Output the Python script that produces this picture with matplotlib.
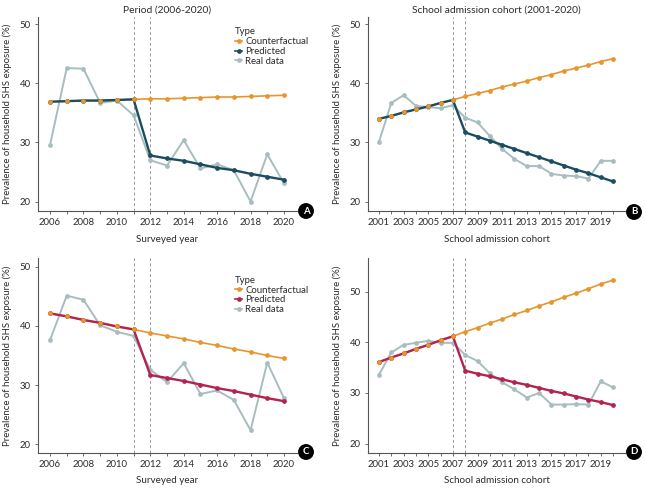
import matplotlib
matplotlib.use("Agg")
import matplotlib.pyplot as plt

plt.rcParams['font.family'] = ['Lato', 'DejaVu Sans']

# data
years_period = list(range(2006, 2021))
years_cohort = list(range(2001, 2021))

a_counterfactual = [36.9, 37.0, 37.1, 37.1, 37.2, 37.3, 37.4, 37.4, 37.5, 37.6, 37.7, 37.7, 37.8, 37.9, 38.0]
a_predicted = [36.9, 37.0, 37.1, 37.1, 37.2, 37.3, 27.8, 27.3, 26.9, 26.3, 25.7, 25.3, 24.7, 24.2, 23.7]
a_real = [29.6, 42.6, 42.5, 36.7, 37.1, 34.6, 27.0, 26.1, 30.4, 25.6, 26.3, 25.3, 20.0, 28.0, 23.1]

b_counterfactual = [34.0, 34.5, 35.1, 35.6, 36.1, 36.7, 37.2, 37.8, 38.3, 38.8, 39.4, 39.9, 40.4, 41.0,
                    41.5, 42.1, 42.6, 43.1, 43.7, 44.2]
b_predicted = [34.0, 34.5, 35.1, 35.6, 36.1, 36.7, 37.2, 31.7, 31.0, 30.3, 29.6, 28.9, 28.2, 27.5,
               26.8, 26.1, 25.4, 24.8, 24.1, 23.4]
b_real = [30.1, 36.7, 38.0, 36.2, 36.0, 35.8, 36.3, 34.2, 33.4, 31.1, 28.9, 27.2, 26.0, 26.0,
          24.7, 24.4, 24.3, 23.9, 26.9, 26.9]

c_counterfactual = [42.1, 41.6, 41.0, 40.5, 39.9, 39.4, 38.8, 38.3, 37.8, 37.2, 36.7, 36.1, 35.6, 35.0, 34.5]
c_predicted = [42.1, 41.6, 41.0, 40.5, 39.9, 39.4, 31.7, 31.2, 30.7, 30.1, 29.5, 29.0, 28.4, 27.8, 27.3]
c_real = [37.6, 45.1, 44.4, 40.1, 39.0, 38.3, 32.6, 30.5, 33.7, 28.5, 29.1, 27.5, 22.4, 33.8, 27.8]

d_counterfactual = [36.1, 37.0, 37.8, 38.7, 39.5, 40.4, 41.2, 42.1, 42.9, 43.8, 44.6, 45.5, 46.3, 47.2,
                    48.0, 48.9, 49.7, 50.6, 51.5, 52.3]
d_predicted = [36.1, 37.0, 37.8, 38.7, 39.5, 40.4, 41.2, 34.4, 33.8, 33.3, 32.7, 32.1, 31.6, 31.0,
               30.4, 29.9, 29.3, 28.7, 28.2, 27.6]
d_real = [33.6, 38.0, 39.5, 39.9, 40.3, 39.9, 39.9, 37.5, 36.3, 33.9, 32.1, 30.7, 29.1, 30.0,
          27.7, 27.7, 27.8, 27.7, 32.3, 31.1]

period_ticks = list(range(2006, 2021, 2))
cohort_ticks = list(range(2001, 2020, 2))

orange = '#E8952E'
teal = '#1B4D60'
crimson = '#B3234E'
grey = '#A8BDBF'
text_col = '#2b2b2b'

W, H = 646, 491
fig = plt.figure(figsize=(W / 100, H / 100), dpi=100)


def make_axes(x0, x1, y0, y1):
    return fig.add_axes([x0 / W, 1 - y1 / H, (x1 - x0) / W, (y1 - y0) / H])


def draw_panel(ax, x, cf, pred, real, pred_col, breaks, xlim, ylim, xticks, yticks,
               xlabel, title, letter, letter_xy, legend_at):
    ax.plot(x, cf, color=orange, lw=1.2, zorder=2)
    ax.plot(x, pred, color=pred_col, lw=1.7, zorder=3)
    ax.plot(x, real, color=grey, lw=1.4, zorder=2.5)
    ax.plot(x, real, 'o', color=grey, ms=2.4, zorder=2.6)
    ax.plot(x, pred, 'o', color=pred_col, ms=2.4, zorder=3.1)
    ax.plot(x, cf, 'o', color=orange, ms=2.4, zorder=3.2)

    for b in breaks:
        ax.axvline(b, color='#999999', lw=0.7, ls=(0, (3, 2.5)), zorder=1)

    ax.set_xlim(*xlim)
    ax.set_ylim(*ylim)
    ax.set_xticks(x, minor=True)
    ax.set_xticks(xticks)
    ax.set_yticks(yticks)
    ax.tick_params(which='both', length=2.2, width=0.6, color='#555555', labelsize=6.9,
                   labelcolor=text_col, pad=3)
    for s in ['top', 'right']:
        ax.spines[s].set_visible(False)
    for s in ['left', 'bottom']:
        ax.spines[s].set_color('#555555')
        ax.spines[s].set_linewidth(0.8)

    ax.set_xlabel(xlabel, fontsize=7.1, color=text_col)
    ax.set_ylabel('Prevalence of household SHS exposure (%)', fontsize=6.9, color=text_col)
    ax.xaxis.label.set_va('center')
    ax.yaxis.label.set_va('center')
    ax.xaxis.set_label_coords(0.5, -0.145)
    ax.yaxis.set_label_coords(-0.12, 0.5)
    if title:
        ax.set_title(title, fontsize=7.4, color=text_col, pad=3)

    if legend_at:
        h1, = ax.plot([], [], '-o', color=orange, lw=1.2, ms=2.4)
        h2, = ax.plot([], [], '-o', color=pred_col, lw=1.2, ms=2.4)
        h3, = ax.plot([], [], '-o', color=grey, lw=1.2, ms=2.4)
        leg = ax.legend([h1, h2, h3], ['Counterfactual', 'Predicted', 'Real data'], title='Type',
                        loc='upper left', bbox_to_anchor=legend_at, frameon=False,
                        fontsize=6.9, title_fontsize=6.9, handlelength=0.7, handletextpad=0.35,
                        labelspacing=0.08, borderpad=0, borderaxespad=0)
        leg._legend_box.align = 'left'
        for t in leg.get_texts():
            t.set_color(text_col)
        leg.get_title().set_color(text_col)

    fig.text(letter_xy[0] / W, 1 - letter_xy[1] / H, letter, color='white', fontsize=7,
             fontweight='bold', ha='center', va='center',
             bbox=dict(boxstyle='circle,pad=0.28', fc='black', ec='black'))


ax_a = make_axes(38, 297, 16.7, 211)
draw_panel(ax_a, years_period, a_counterfactual, a_predicted, a_real, teal, [2011, 2012],
           (2005.28, 2020.78), (18.4, 51.3), period_ticks, [20, 30, 40, 50],
           'Surveyed year', 'Period (2006-2020)', 'A', (306, 211), (0.762, 0.945))

ax_b = make_axes(368, 625, 16.7, 211)
draw_panel(ax_b, years_cohort, b_counterfactual, b_predicted, b_real, teal, [2007, 2008],
           (2000.11, 2020.97), (18.4, 51.3), cohort_ticks, [20, 30, 40, 50],
           'School admission cohort', 'School admission cohort (2001-2020)', 'B', (634, 212), None)

ax_c = make_axes(38, 297, 258.3, 452.7)
draw_panel(ax_c, years_period, c_counterfactual, c_predicted, c_real, crimson, [2011, 2012],
           (2005.28, 2020.78), (18.6, 51.4), period_ticks, [20, 30, 40, 50],
           'Surveyed year', None, 'C', (306, 452), (0.762, 0.91))

ax_d = make_axes(368, 625, 258.3, 452.7)
draw_panel(ax_d, years_cohort, d_counterfactual, d_predicted, d_real, crimson, [2007, 2008],
           (2000.11, 2020.97), (18.2, 56.6), cohort_ticks, [20, 30, 40, 50],
           'School admission cohort', None, 'D', (634, 452), None)

fig.savefig('out.png', dpi=100)
